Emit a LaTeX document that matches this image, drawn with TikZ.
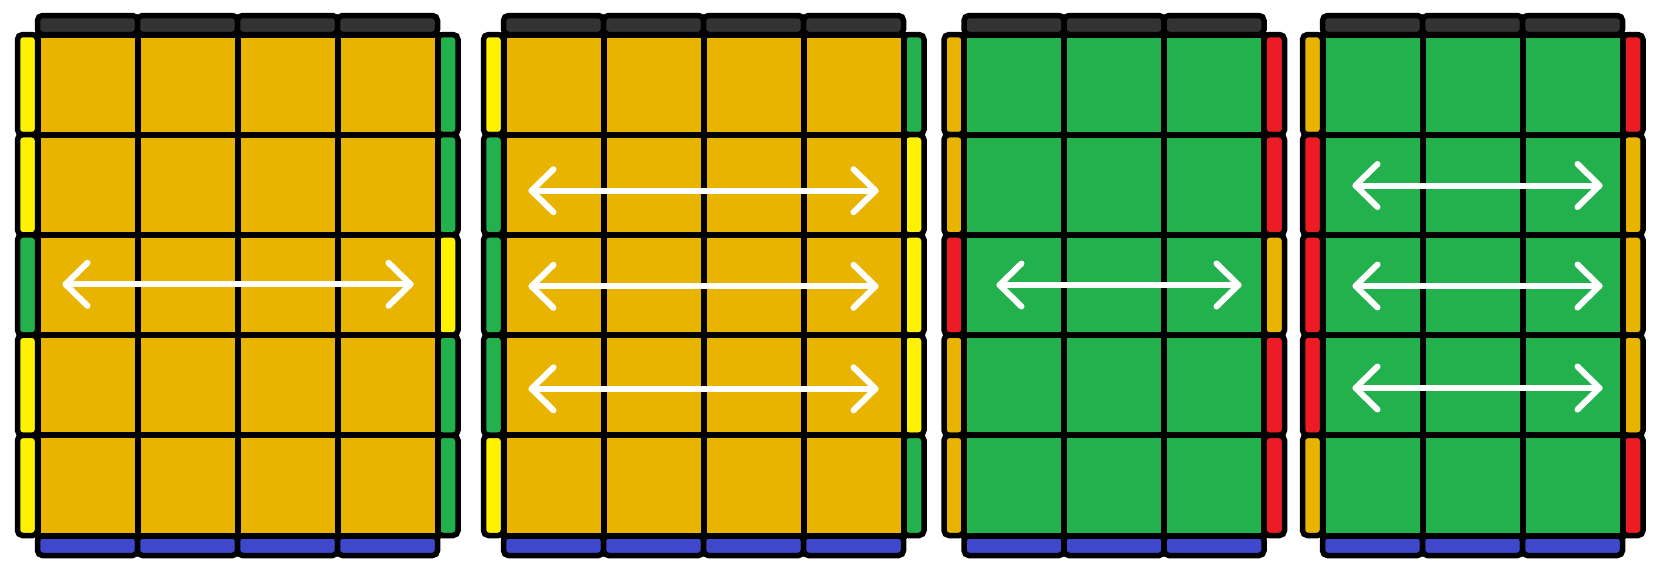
\documentclass[tikz,border=0pt]{standalone}
\definecolor{cgold}{RGB}{232,180,0}
\definecolor{cgreen}{RGB}{34,177,76}
\definecolor{cyel}{RGB}{255,242,0}
\definecolor{cred}{RGB}{237,28,36}
\definecolor{cblue}{RGB}{63,72,204}
\definecolor{cdark}{RGB}{51,51,51}
\tikzset{
  sticker/.style={draw=black,line width=5.5pt,rounded corners=5pt},
  gridline/.style={draw=black,line width=6pt},
  arr/.style={draw=white,line width=6pt,line cap=round,line join=round}
}
\newcommand\myface[5]{%
  \foreach \c [count=\i from 0] in {#4} {
    \path[sticker,fill=\c] (#1-20,34.5+100.2*\i) rectangle (#1,134.7+100.2*\i);
  }
  \foreach \c [count=\i from 0] in {#5} {
    \path[sticker,fill=\c] (#1+100*#2,34.5+100.2*\i) rectangle (#1+100*#2+20.5,134.7+100.2*\i);
  }
  \foreach \k in {1,...,#2} {
    \path[sticker,fill=cdark] (#1+100*\k-100,15.5) rectangle (#1+100*\k,34.5);
    \path[sticker,fill=cblue] (#1+100*\k-100,535.5) rectangle (#1+100*\k,555.5);
  }
  \path[fill=#3] (#1,34.5) rectangle (#1+100*#2,535.5);
  \foreach \k in {1,...,#2} {
    \draw[gridline] (#1+100*\k-100,34.5) -- (#1+100*\k-100,535.5);
  }
  \foreach \r in {1,...,4} {
    \draw[gridline] (#1,34.5+100.2*\r) -- (#1+100*#2,34.5+100.2*\r);
  }
  \draw[gridline] (#1,34.5) rectangle (#1+100*#2,535.5);
}
\newcommand\mydblarrow[3]{%
  \draw[arr] (#1+1.5,#3) -- (#2-1.5,#3);
  \draw[arr] (#1+23.5,#3-21.5) -- (#1+1.5,#3) -- (#1+23.5,#3+21.5);
  \draw[arr] (#2-23.5,#3-21.5) -- (#2-1.5,#3) -- (#2-23.5,#3+21.5);
}
\begin{document}
\begin{tikzpicture}[x=1pt,y=-1pt]
\useasboundingbox (0,0) rectangle (1653,574);
\myface{37.5}{4}{cgold}{cyel,cyel,cgreen,cyel,cyel}{cgreen,cgreen,cyel,cgreen,cgreen}
\myface{503.5}{4}{cgold}{cyel,cgreen,cgreen,cgreen,cyel}{cgreen,cyel,cyel,cyel,cgreen}
\myface{964}{3}{cgreen}{cgold,cgold,cred,cgold,cgold}{cred,cred,cgold,cred,cred}
\myface{1322.5}{3}{cgreen}{cgold,cred,cred,cred,cgold}{cred,cgold,cgold,cgold,cred}
\mydblarrow{64}{412}{284.3}
\mydblarrow{530}{877}{190.7}
\mydblarrow{530}{877}{286.3}
\mydblarrow{530}{877}{388.8}
\mydblarrow{998}{1240}{285}
\mydblarrow{1354}{1601}{185.5}
\mydblarrow{1354}{1601}{286}
\mydblarrow{1354}{1601}{388}
\end{tikzpicture}
\end{document}
